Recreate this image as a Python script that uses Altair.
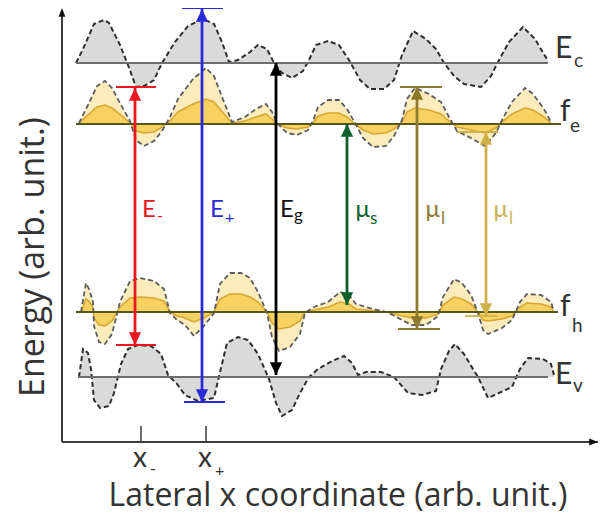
import altair as alt
import pandas as pd

# ---------------- data (arb. units) ----------------
# conduction band edge Ec (dashed fluctuating curve) and its mean level
ec_x = [76, 83, 94, 104, 109, 120, 128, 136, 144, 154, 162, 175, 188, 203, 214, 222, 229, 238, 250, 258, 267, 274, 282, 292,
        303, 309, 316, 328, 339, 349, 360, 370, 384, 394, 402, 413, 426, 436, 444, 454, 464, 481, 491, 499, 509, 523, 535, 548]
ec_y = [63, 49, 24, 20, 23, 45, 65, 87, 86, 80, 63, 42, 26, 19, 24, 42, 62, 60, 52, 45, 49, 63, 73, 78,
        71, 60, 45, 41, 45, 60, 80, 89, 89, 80, 55, 31, 39, 49, 63, 76, 84, 87, 76, 60, 42, 27, 39, 61]
ec_level = 63

# electron quasi-Fermi level fe: outer (dashed) and inner (solid) curves
fe_x = [79, 88, 97, 105, 112, 121, 130, 136, 144, 154, 162, 170, 178, 193, 206, 214, 224, 232, 245, 256, 266, 272, 277, 287, 297, 308,
        313, 318, 328, 339, 347, 355, 363, 373, 386, 394, 402, 407, 415, 429, 441, 449, 457, 471, 485, 496, 502, 512, 525, 533, 544, 551]
fe_y = [123, 105, 86, 81, 88, 105, 121, 140, 146, 141, 131, 117, 99, 79, 68, 76, 102, 122, 117, 109, 104, 112, 123, 133, 135, 130,
        121, 107, 100, 100, 109, 123, 138, 147, 146, 136, 120, 99, 88, 94, 102, 117, 131, 138, 146, 133, 120, 102, 88, 94, 109, 122]
fe_in = [123, 115, 107, 105, 108, 115, 123, 131, 133, 132, 127, 121, 112, 104, 99, 102, 114, 123, 121, 117, 114, 119, 124, 128, 129, 127,
         123, 116, 113, 113, 117, 124, 130, 134, 133, 129, 122, 112, 108, 110, 114, 121, 127, 130, 133, 128, 122, 114, 108, 110, 117, 123]
fe_level = 124

# hole quasi-Fermi level fh
fh_x = [81, 86, 89, 93, 94, 99, 105, 112, 120, 130, 140, 154, 164, 170, 177, 185, 194, 204, 214, 220, 230, 241, 250, 258, 267, 272, 279, 290,
        300, 305, 314, 328, 340, 349, 356, 366, 377, 387, 402, 412, 426, 438, 443, 454, 462, 471, 478, 483, 488, 502, 512, 520, 527, 541, 551, 554]
fh_y = [312, 283, 289, 302, 326, 342, 344, 334, 302, 281, 278, 281, 289, 313, 320, 325, 336, 326, 313, 284, 273, 273, 278, 292, 313, 337, 351, 347,
        334, 313, 307, 302, 292, 295, 304, 307, 310, 312, 320, 325, 325, 316, 297, 279, 283, 295, 313, 330, 334, 328, 320, 302, 294, 295, 302, 312]
fh_in = [312, 299, 301, 307, 318, 325, 326, 321, 307, 298, 297, 298, 301, 312, 316, 318, 322, 318, 312, 299, 294, 294, 297, 302, 312, 323, 329, 327,
         321, 312, 310, 307, 302, 304, 309, 310, 311, 312, 316, 318, 318, 314, 305, 297, 299, 304, 312, 320, 321, 319, 316, 307, 303, 304, 307, 312]
fh_level = 312

# valence band edge Ev
ev_x = [79, 83, 88, 91, 94, 100, 109, 114, 121, 128, 138, 151, 161, 168, 177, 185, 198, 214, 220, 227, 238, 248, 258, 269, 276, 282, 292,
        300, 309, 318, 332, 344, 352, 358, 366, 381, 394, 408, 422, 436, 441, 449, 455, 464, 473, 478, 488, 499, 512, 520, 528, 543, 551, 554]
ev_y = [377, 349, 353, 369, 400, 408, 406, 393, 364, 349, 345, 346, 354, 375, 384, 395, 401, 398, 372, 343, 337, 340, 354, 379, 403, 416, 410,
        393, 377, 369, 361, 356, 363, 375, 372, 372, 377, 393, 395, 391, 369, 351, 344, 354, 369, 377, 398, 393, 387, 369, 358, 359, 364, 375]
ev_level = 377

# mean levels (start, end, level)
level_names = ["Ec", "fe", "fh", "Ev"]
level_x1 = [76, 76, 76, 78]
level_x2 = [548, 561, 558, 548]
level_y = [ec_level, fe_level, fh_level, ev_level]
level_colors = ["#6e6e6e", "#57571c", "#57571c", "#6e6e6e"]

# transition arrows
arrow_names = ["E-", "E+", "Eg", "mus", "mul1", "mul2"]
arrow_x = [135, 202, 276, 347, 417, 486]
arrow_top = [88, 9, 63, 124, 87, 132]
arrow_bottom = [345, 402, 375, 305, 329, 316]
arrow_colors = ["#e8191f", "#2a2ad8", "#000000", "#0e5e2e", "#8c7b2e", "#cfb14a"]

# caps at arrow ends (x1, x2, level, colour)
cap_x1 = [116, 116, 182, 184, 400, 398, 457, 465]
cap_x2 = [156, 156, 223, 225, 442, 440, 498, 497]
cap_y = [87, 345, 8, 402, 87, 329, 132, 316]
cap_colors = ["#e8191f", "#e8191f", "#2a2ad8", "#2a2ad8", "#8c7b2e", "#8c7b2e", "#cfb14a", "#cfb14a"]

# x axis ticks
tick_x = [141, 206]

# ---------------- chart ----------------
XS = alt.Scale(domain=[8, 598])
YS = alt.Scale(domain=[8, 514], reverse=True)
FONT = "Lato"
TITLE_FONT = "Open Sans"


def X(f):
    return alt.X(f, type="quantitative", scale=XS, axis=None)


def Y(f):
    return alt.Y(f, type="quantitative", scale=YS, axis=None)


def band(xs, ys, level, inner=None):
    d = pd.DataFrame({"x": xs, "y": ys})
    d["base"] = level
    if inner is not None:
        d["inner"] = inner
    return d


ec = band(ec_x, ec_y, ec_level)
ev = band(ev_x, ev_y, ev_level)
fe = band(fe_x, fe_y, fe_level, fe_in)
fh = band(fh_x, fh_y, fh_level, fh_in)

layers = []

# axes
axes = pd.DataFrame({"x": [62, 62], "x2": [62, 598], "y": [14, 442], "y2": [442, 442]})
layers.append(alt.Chart(axes).mark_rule(color="#3c3c3c", strokeWidth=2).encode(
    x=X("x"), x2="x2", y=Y("y"), y2="y2"))
ticks = pd.DataFrame({"x": tick_x, "y": [426] * len(tick_x), "y2": [442] * len(tick_x)})
layers.append(alt.Chart(ticks).mark_rule(color="#3c3c3c", strokeWidth=1.5).encode(
    x=X("x"), y=Y("y"), y2="y2"))
axis_heads_up = pd.DataFrame({"x": [62], "y": [8]})
layers.append(alt.Chart(axis_heads_up).mark_point(
    shape="M0,0L-0.85,2.2L0.85,2.2Z", size=64, filled=True, opacity=1, color="#111", strokeWidth=0).encode(
    x=X("x"), y=Y("y")))
axis_heads_right = pd.DataFrame({"x": [598], "y": [442]})
layers.append(alt.Chart(axis_heads_right).mark_point(
    shape="M0,0L-2.2,-0.85L-2.2,0.85Z", size=64, filled=True, opacity=1, color="#111", strokeWidth=0).encode(
    x=X("x"), y=Y("y")))

# yellow quasi-Fermi bands
for d in (fe, fh):
    layers.append(alt.Chart(d).mark_area(color="#fcebbb", opacity=1).encode(x=X("x"), y=Y("y"), y2="base"))
    layers.append(alt.Chart(d).mark_area(color="#f7d263", opacity=1).encode(x=X("x"), y=Y("inner"), y2="base"))
    layers.append(alt.Chart(d).mark_line(color="#d7a733", strokeWidth=1.6).encode(x=X("x"), y=Y("inner")))
    layers.append(alt.Chart(d).mark_line(color="#5c5c5c", strokeWidth=1.8, strokeDash=[5, 3]).encode(x=X("x"), y=Y("y")))

# grey band edges
for d in (ec, ev):
    layers.append(alt.Chart(d).mark_area(color="#dadada", opacity=1).encode(x=X("x"), y=Y("y"), y2="base"))
    layers.append(alt.Chart(d).mark_line(color="#2e2e2e", strokeWidth=2, strokeDash=[5, 3]).encode(x=X("x"), y=Y("y")))

# mean levels
lv = pd.DataFrame({"name": level_names, "x1": level_x1, "x2": level_x2, "y": level_y, "c": level_colors})
layers.append(alt.Chart(lv).mark_rule(strokeWidth=2.2).encode(
    x=X("x1"), x2="x2", y=Y("y"), color=alt.Color("c:N", scale=None)))

# arrows
ar = pd.DataFrame({"name": arrow_names, "x": arrow_x, "top": arrow_top, "bottom": arrow_bottom, "c": arrow_colors})
layers.append(alt.Chart(ar).mark_rule(strokeWidth=2.8).encode(
    x=X("x"), y=Y("top"), y2="bottom", color=alt.Color("c:N", scale=None)))
cp = pd.DataFrame({"x1": cap_x1, "x2": cap_x2, "y": cap_y, "c": cap_colors})
layers.append(alt.Chart(cp).mark_rule(strokeWidth=1.8).encode(
    x=X("x1"), x2="x2", y=Y("y"), color=alt.Color("c:N", scale=None)))
layers.append(alt.Chart(ar).mark_point(
    shape="M0,0L-1,2.1L1,2.1Z", size=150, filled=True, opacity=1, strokeWidth=0).encode(
    x=X("x"), y=Y("top"), color=alt.Color("c:N", scale=None)))
layers.append(alt.Chart(ar).mark_point(
    shape="M0,0L-1,-2.1L1,-2.1Z", size=150, filled=True, opacity=1, strokeWidth=0).encode(
    x=X("x"), y=Y("bottom"), color=alt.Color("c:N", scale=None)))

# labels
lab_text = ["E", "c", "f", "e", "f", "h", "E", "v",
            "E", "-", "E", "+", "E", "g", "\u00b5", "s", "\u00b5", "l", "\u00b5", "l",
            "x", "-", "x", "+"]
lab_x = [555, 574, 560, 570, 560, 572, 555, 573,
         142, 157, 210, 225, 280, 294, 355, 370, 425, 441, 493, 509,
         133, 150, 198, 215]
lab_y = [58, 67, 121, 132, 316, 332, 384, 392,
         217, 221, 217, 223, 217, 221, 217, 224, 217, 224, 217, 224,
         467, 474, 467, 476]
lab_size = [30, 19, 30, 19, 30, 19, 30, 19,
            24, 16, 24, 16, 24, 17, 24, 17, 24, 17, 24, 17,
            28, 16, 28, 16]
lab_color = ["#333"] * 8 + ["#e8191f", "#e8191f", "#2a2ad8", "#2a2ad8", "#111", "#111",
                            "#0e5e2e", "#0e5e2e", "#8c7b2e", "#8c7b2e", "#c9b255", "#c9b255"] + ["#333"] * 4
lb = pd.DataFrame({"t": lab_text, "x": lab_x, "y": lab_y, "s": lab_size, "c": lab_color})
layers.append(alt.Chart(lb).mark_text(align="left", baseline="alphabetic", font=FONT).encode(
    x=X("x"), y=Y("y"), text="t:N", size=alt.Size("s:Q", scale=None), color=alt.Color("c:N", scale=None)))

xt = pd.DataFrame({"t": ["Lateral x coordinate (arb. unit.)"], "x": [338], "y": [506]})
layers.append(alt.Chart(xt).mark_text(align="center", baseline="alphabetic", font=TITLE_FONT, fontSize=32, color="#333").encode(
    x=X("x"), y=Y("y"), text="t:N"))
yt = pd.DataFrame({"t": ["Energy (arb. unit.)"], "x": [34], "y": [257]})
layers.append(alt.Chart(yt).mark_text(align="center", baseline="middle", angle=270, font=TITLE_FONT, fontSize=34, color="#333").encode(
    x=X("x"), y=Y("y"), text="t:N"))

chart = alt.layer(*layers).properties(
    width=590, height=506, padding=0, autosize=alt.AutoSizeParams(type="none"), background="white"
).configure_view(stroke=None)

chart.save("out.html", embed_options={"renderer": "svg", "actions": False})
